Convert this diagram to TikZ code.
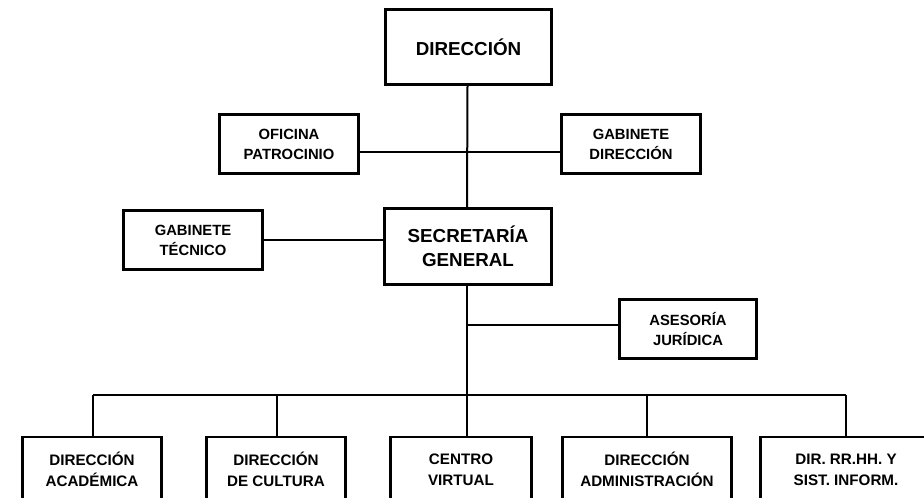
\documentclass[tikz,border=0pt]{standalone}
\usepackage{fontspec}
\setmainfont{Liberation Sans}
\begin{document}
\begin{tikzpicture}[x=1pt,y=-1pt,
  box/.style={draw=black, line width=2.8pt, fill=white, inner sep=0pt, align=center, font=\bfseries},
  big/.style={box, font=\fontsize{18.8}{24.5}\selectfont\bfseries},
  small/.style={box, minimum width=139pt, minimum height=59pt, font=\fontsize{14.8}{20}\selectfont\bfseries},
  low/.style={box, minimum height=65pt, font=\fontsize{15.2}{21}\selectfont\bfseries},
  conn/.style={line width=2pt},
  busline/.style={line width=1.6pt}]
\clip (0,0) rectangle (924,498);
\fill[white] (0,0) rectangle (924,498);
% top level
\node[big, minimum width=166pt, minimum height=75pt] (dir) at (468.5,47) {DIRECCIÓN};
\node[small] (ofi) at (289,144) {OFICINA\\PATROCINIO};
\node[small] (gabd) at (631,144) {GABINETE\\DIRECCIÓN};
\node[small] (gabt) at (193,240) {GABINETE\\TÉCNICO};
\node[big, minimum width=167pt, minimum height=76pt] (sec) at (468,246.5) {SECRETARÍA\\GENERAL};
\node[small, minimum width=137pt] (ase) at (688,329) {ASESORÍA\\JURÍDICA};
% bottom row
\node[low, minimum width=139pt] (c1) at (92,469.5) {DIRECCIÓN\\ACADÉMICA};
\node[low, minimum width=139pt] (c2) at (276,469.5) {DIRECCIÓN\\DE CULTURA};
\node[low, minimum width=141pt] (c3) at (461,469.5) {CENTRO\\VIRTUAL};
\node[low, minimum width=169pt] (c4) at (647,469.5) {DIRECCIÓN\\ADMINISTRACIÓN};
\node[low, minimum width=171pt] (c5) at (846,469.5) {DIR. RR.HH. Y\\SIST. INFORM.};
\coordinate (busy) at (0,395);
% connectors
\begin{scope}[on background layer/.style={}]
\draw[conn] ([xshift=-1pt]dir.south) -- ([xshift=-1pt]sec.north);
\draw[conn] ([yshift=-8pt]ofi.east) -- ([yshift=-8pt]gabd.west);
\draw[conn] (gabt.east) -- (gabt.east -| sec.west);
\draw[conn] ([yshift=4pt]ase.west) -- ([yshift=4pt]ase.west -| sec.south);
\draw[conn] ([xshift=-1pt]sec.south) -- ([xshift=-1pt]sec.south |- busy);
\draw[busline] ([xshift=1pt]c1.north |- busy) -- (c5.north |- busy);
\draw[conn] ([xshift=1pt]c1.north |- busy) -- ([xshift=1pt]c1.north);
\draw[conn] ([xshift=1pt]c2.north |- busy) -- ([xshift=1pt]c2.north);
\draw[conn] ([xshift=6pt]c3.north |- busy) -- ([xshift=6pt]c3.north);
\draw[conn] (c4.north |- busy) -- (c4.north);
\draw[conn] (c5.north |- busy) -- (c5.north);
\end{scope}
\end{tikzpicture}
\end{document}
